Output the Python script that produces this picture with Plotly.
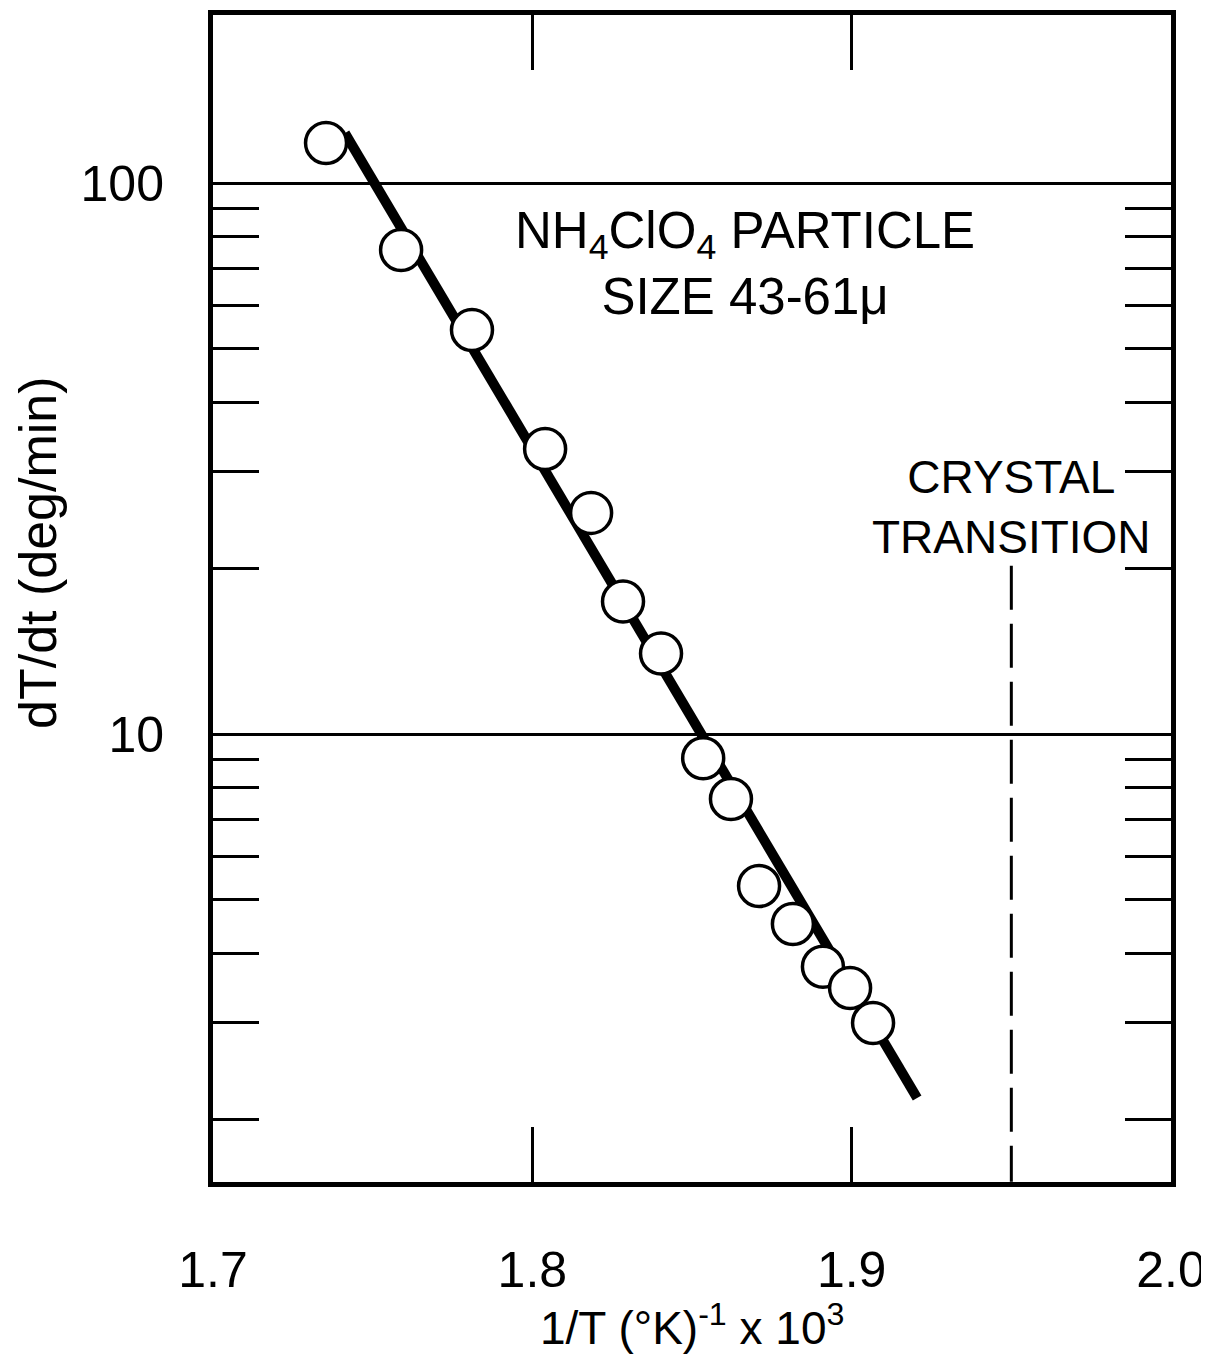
import plotly.graph_objects as go

# ---- data ----
inv_T = [1.7354, 1.7589, 1.7811, 1.8040, 1.8184, 1.8284, 1.8403,
         1.8535, 1.8622, 1.8710, 1.8816, 1.8910, 1.8995, 1.9067]
rate = [118.2, 75.6, 54.1, 32.9, 25.2, 17.4, 14.0,
        9.04, 7.62, 5.30, 4.52, 3.78, 3.46, 2.99]

fit_x = [1.7413, 1.9205]
fit_y = [123.2, 2.185]

transition_x = 1.95
transition_y = [20.2, 1.54]

x_ticks = [1.7, 1.8, 1.9, 2.0]
x_ticktext = ["1.7", "1.8", "1.9", "2.0"]
y_ticks = [10, 100]
y_ticktext = ["10", "100"]
y_minor = [2, 3, 4, 5, 6, 7, 8, 9, 20, 30, 40, 50, 60, 70, 80, 90]

FONT = "Liberation Sans, Arial, sans-serif"

fig = go.Figure()

fig.add_trace(go.Scatter(
    x=[transition_x, transition_x], y=transition_y, mode="lines",
    line=dict(color="black", width=3, dash="44px,14px"), hoverinfo="skip"))

fig.add_trace(go.Scatter(
    x=fit_x, y=fit_y, mode="lines",
    line=dict(color="black", width=10), hoverinfo="skip"))

fig.add_trace(go.Scatter(
    x=inv_T, y=rate, mode="markers",
    marker=dict(size=41, color="white", line=dict(color="black", width=3.5))))

fig.update_xaxes(
    range=[1.7, 2.0], tickvals=x_ticks, ticktext=x_ticktext,
    ticks="inside", ticklen=55, tickwidth=3, tickcolor="black",
    showline=True, linewidth=5, linecolor="black", mirror="ticks",
    showgrid=False, zeroline=False, ticklabelstandoff=40,
    tickfont=dict(family=FONT, size=50, color="black"))

fig.update_yaxes(
    type="log", range=[0.187, 2.305], tickvals=y_ticks, ticktext=y_ticktext,
    ticks="", showline=True, linewidth=5, linecolor="black", mirror="ticks",
    showgrid=True, gridcolor="black", gridwidth=2.5, zeroline=False,
    ticklabelstandoff=34,
    tickfont=dict(family=FONT, size=50, color="black"),
    minor=dict(tickvals=y_minor, ticks="inside", ticklen=46, tickwidth=3,
               tickcolor="black", showgrid=False))

fig.add_annotation(x=1.8666, y=1.854, xref="x", yref="y", showarrow=False,
                   text="NH<sub>4</sub>ClO<sub>4</sub> PARTICLE<br>SIZE 43-61\u03bc",
                   font=dict(family=FONT, size=51, color="black"),
                   xanchor="center", yanchor="middle", align="center")
fig.add_annotation(x=transition_x, y=1.4129, xref="x", yref="y", showarrow=False,
                   text="CRYSTAL<br>TRANSITION",
                   font=dict(family=FONT, size=46, color="black"),
                   xanchor="center", yanchor="middle", align="center")

# page has an 8px body margin: figure pixel = page pixel - 8
OFF = 8
W, H = 1201, 1350
ML, MT = 213 - OFF, 15 - OFF
MR = W - (1171 - OFF)
MB = H - (1182 - OFF)
plot_w = W - ML - MR
plot_h = H - MT - MB
bottom_fig = H - MB  # figure y of plot bottom

fig.add_annotation(x=0.5, y=-((1325 - OFF) - bottom_fig) / plot_h,
                   xref="paper", yref="paper", showarrow=False,
                   text="1/T (\u00b0K)<sup>-1</sup> x 10<sup>3</sup>",
                   font=dict(family=FONT, size=46, color="black"),
                   xanchor="center", yanchor="middle")
fig.add_annotation(x=((38 - OFF) - ML) / plot_w,
                   y=(bottom_fig - (553 - OFF)) / plot_h,
                   xref="paper", yref="paper", showarrow=False,
                   text="dT/dt (deg/min)", textangle=-90,
                   font=dict(family=FONT, size=52, color="black"),
                   xanchor="center", yanchor="middle")

fig.update_layout(
    width=W, height=H,
    margin=dict(l=ML, r=MR, t=MT, b=MB, autoexpand=False),
    plot_bgcolor="white", paper_bgcolor="white",
    showlegend=False)

fig.write_html("out.html")
